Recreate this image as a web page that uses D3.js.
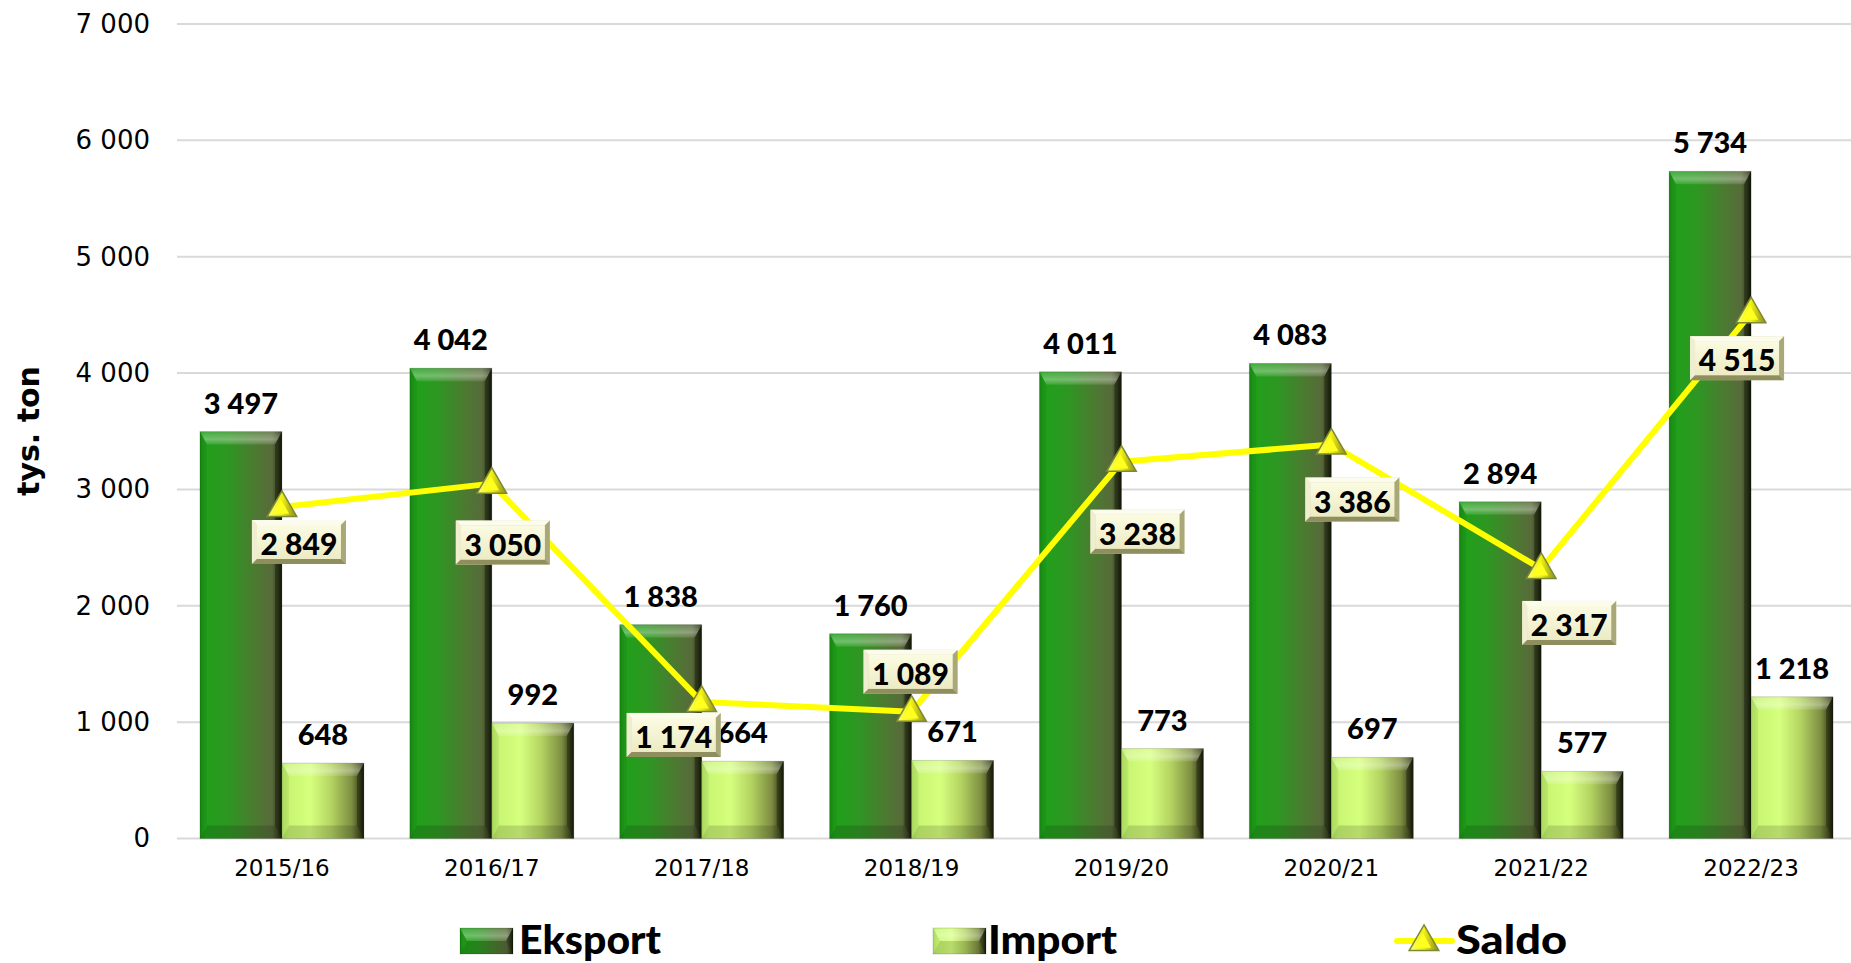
<!DOCTYPE html>
<html>
<head>
<meta charset="utf-8">
<script src="https://cdn.jsdelivr.net/npm/d3@7"></script>
<style>
  html, body { margin:0; padding:0; background:#fff; }
  svg text { font-family: Lato, "Noto Sans", sans-serif; }
</style>
</head>
<body>
<svg id="chart" width="1851" height="963"></svg>
<script>
// data (thousand tons)
var categories = ['2015/16','2016/17','2017/18','2018/19','2019/20','2020/21','2021/22','2022/23'];
var eksport = [3497, 4042, 1838, 1760, 4011, 4083, 2894, 5734];
var importVals = [648, 992, 664, 671, 773, 697, 577, 1218];
var saldo = [2849, 3050, 1174, 1089, 3238, 3386, 2317, 4515];
var yTicks = [0, 1000, 2000, 3000, 4000, 5000, 6000, 7000];
var seriesNames = ['Eksport', 'Import'];

// where the saldo boxes sit relative to their point
var saldoLabelShift = [[17,35],[11,59],[-28,33],[-1,-40],[16,70],[21,55],[28,54],[-14,45]];

var svg = d3.select('#chart');
var plotLeft = 177, plotRight = 1851, plotTop = 24, plotBottom = 838.5;

var fmt = d3.formatLocale({decimal:',', thousands:' ', grouping:[3], currency:['','']}).format(',d');

var y = d3.scaleLinear().domain([0,7000]).range([plotBottom, plotTop]);
// the category bands run a little past the right edge of the picture
var x0 = d3.scaleBand().domain(categories).range([plotLeft, 1856]).padding(0);
var x1 = d3.scaleBand().domain(seriesNames).range([0, x0.bandwidth()]).paddingInner(0).paddingOuter(0.28);

var defs = svg.append('defs');
function hGrad(id, stops){
	var g = defs.append('linearGradient').attr('id', id).attr('x1','0').attr('x2','1').attr('y1','0').attr('y2','0');
	stops.forEach(function(s){ g.append('stop').attr('offset', s[0]).attr('stop-color', s[1]); });
}
hGrad('gEks', [['0%','#178e12'],['6%','#20a01a'],['35%','#2e9622'],['65%','#4a7c30'],['88%','#586a3a'],['95%','#3a4622'],['100%','#182008']]);
hGrad('gImp', [['0%','#b4e864'],['8%','#c8f672'],['35%','#d6ff7e'],['60%','#b4d462'],['85%','#7e8e42'],['94%','#4a5424'],['100%','#1a2208']]);
hGrad('gTri', [['0%','#ffff70'],['50%','#f0f010'],['100%','#8a8a20']]);
var vg = defs.append('linearGradient').attr('id','gBox').attr('x1','0').attr('x2','0').attr('y1','0').attr('y2','1');
vg.append('stop').attr('offset','0%').attr('stop-color','#fbfbe2');
vg.append('stop').attr('offset','100%').attr('stop-color','#ecebc4');
var tg = defs.append('linearGradient').attr('id','gTop').attr('x1','0').attr('x2','0').attr('y1','0').attr('y2','1');
tg.append('stop').attr('offset','0%').attr('stop-color','#fff').attr('stop-opacity', 0.15);
tg.append('stop').attr('offset','60%').attr('stop-color','#fff').attr('stop-opacity', 0.35);
tg.append('stop').attr('offset','100%').attr('stop-color','#fff').attr('stop-opacity', 0.1);

// gridlines
svg.append('g').selectAll('line').data(yTicks).enter().append('line')
	.attr('x1', plotLeft).attr('x2', plotRight)
	.attr('y1', function(d){ return y(d); }).attr('y2', function(d){ return y(d); })
	.attr('stroke', '#d9d9d9').attr('stroke-width', 2);

// y axis
var yAxis = d3.axisLeft(y).tickValues(yTicks).tickFormat(fmt).tickSize(0).tickPadding(27);
var ya = svg.append('g').attr('transform', 'translate(' + plotLeft + ',0)').call(yAxis);
ya.select('.domain').remove();
ya.selectAll('text').attr('font-size', 26).attr('fill', '#000').style('font-family', '"DejaVu Sans", sans-serif');

// x axis
var xAxis = d3.axisBottom(x0).tickSize(0).tickPadding(21);
var xa = svg.append('g').attr('transform', 'translate(0,' + plotBottom + ')').call(xAxis);
xa.select('.domain').remove();
xa.selectAll('text').attr('font-size', 23).attr('fill', '#000').style('font-family', '"DejaVu Sans", sans-serif');

// y title
svg.append('text').attr('transform', 'translate(28,431) rotate(-90)')
	.attr('text-anchor', 'middle').attr('dominant-baseline', 'central')
	.attr('font-size', 30).attr('font-weight', 'bold').style('font-family', '"DejaVu Sans", sans-serif')
	.text('tys. ton');

// bevelled bars
function bevelBar(g, bx, by, bw, bh, grad){
	g.append('rect').attr('x', bx).attr('y', by).attr('width', bw).attr('height', bh).attr('fill', 'url(#' + grad + ')');
	var t = Math.min(13, bh/2), s = 7;
	var pts = function(a){ return a.map(function(p){ return p.join(','); }).join(' '); };
	g.append('polygon').attr('points', pts([[bx,by],[bx+bw,by],[bx+bw-s,by+t],[bx+s,by+t]]))
		.attr('fill', 'url(#gTop)');
	g.append('polygon').attr('points', pts([[bx,by+bh],[bx+bw,by+bh],[bx+bw-s,by+bh-t],[bx+s,by+bh-t]]))
		.attr('fill', '#000').attr('fill-opacity', 0.14);
	g.append('polygon').attr('points', pts([[bx,by],[bx+s,by+t],[bx+s,by+bh-t],[bx,by+bh]]))
		.attr('fill', '#000').attr('fill-opacity', 0.06);
	g.append('polygon').attr('points', pts([[bx+bw,by],[bx+bw-s,by+t],[bx+bw-s,by+bh-t],[bx+bw,by+bh]]))
		.attr('fill', '#000').attr('fill-opacity', 0.3);
	g.append('rect').attr('x', bx).attr('y', by).attr('width', bw).attr('height', bh)
		.attr('fill', 'none').attr('stroke', '#000').attr('stroke-opacity', 0.15).attr('stroke-width', 1);
}

var barData = [];
categories.forEach(function(c, i){
	barData.push({cat:c, s:'Eksport', v:eksport[i]});
	barData.push({cat:c, s:'Import', v:importVals[i]});
});

var bars = svg.append('g');
barData.forEach(function(d){
	var bx = x0(d.cat) + x1(d.s);
	bevelBar(bars, bx, y(d.v), x1.bandwidth(), y(0) - y(d.v), d.s === 'Eksport' ? 'gEks' : 'gImp');
});

// value labels above bars
svg.append('g').selectAll('text').data(barData).enter().append('text')
	.attr('x', function(d){ return x0(d.cat) + x1(d.s) + x1.bandwidth()/2; })
	.attr('y', function(d){ return y(d.v) - 18; })
	.attr('text-anchor', 'middle').attr('font-size', 29).attr('font-weight', 900)
	.text(function(d){ return fmt(d.v); });

// saldo line
var cx = function(i){ return x0(categories[i]) + x0.bandwidth()/2; };
var line = d3.line().x(function(d, i){ return cx(i); }).y(function(d){ return y(d); });
svg.append('path').datum(saldo).attr('d', line).attr('fill', 'none')
	.attr('stroke', '#ffff00').attr('stroke-width', 6).attr('stroke-linejoin', 'round');

// triangle markers
function triangle(g, px, py){
	var big = d3.symbol().type(d3.symbolTriangle).size(380);
	var small = d3.symbol().type(d3.symbolTriangle).size(115);
	g.append('path').attr('d', big()).attr('transform', 'translate(' + px + ',' + (py+1) + ')')
		.attr('fill', 'url(#gTri)').attr('stroke', '#7c8a34').attr('stroke-width', 1.5);
	g.append('path').attr('d', small()).attr('transform', 'translate(' + (px-1) + ',' + (py+2) + ')')
		.attr('fill', '#ffff20');
}
var markers = svg.append('g');
saldo.forEach(function(v, i){ triangle(markers, cx(i), y(v)); });

// saldo value boxes
function bevelBox(g, mx, my, w, h, txt){
	var bx = mx - w/2, by = my - h/2, b = 5;
	var pts = function(a){ return a.map(function(p){ return p.join(','); }).join(' '); };
	g.append('rect').attr('x', bx).attr('y', by).attr('width', w).attr('height', h).attr('fill', '#d8d8a8');
	g.append('polygon').attr('points', pts([[bx,by],[bx+w,by],[bx+w-b,by+b],[bx+b,by+b]])).attr('fill', '#fcfcee');
	g.append('polygon').attr('points', pts([[bx,by],[bx+b,by+b],[bx+b,by+h-b],[bx,by+h]])).attr('fill', '#efeed0');
	g.append('polygon').attr('points', pts([[bx+w,by],[bx+w-b,by+b],[bx+w-b,by+h-b],[bx+w,by+h]])).attr('fill', '#a8a878');
	g.append('polygon').attr('points', pts([[bx,by+h],[bx+w,by+h],[bx+w-b,by+h-b],[bx+b,by+h-b]])).attr('fill', '#8e8e5e');
	g.append('rect').attr('x', bx+b).attr('y', by+b).attr('width', w-2*b).attr('height', h-2*b).attr('fill', 'url(#gBox)');
	g.append('text').attr('x', mx).attr('y', my + 1).attr('text-anchor', 'middle').attr('dominant-baseline', 'central')
		.attr('font-size', 30).attr('font-weight', 900).attr('fill', '#000').text(txt);
}
var boxes = svg.append('g');
saldo.forEach(function(v, i){
	bevelBox(boxes, cx(i) + saldoLabelShift[i][0], y(v) + saldoLabelShift[i][1], 94, 44, fmt(v));
});

// legend
var lg = svg.append('g');
var legY = 941;
bevelBar(lg, 460, legY - 13, 53, 26, 'gEks');
lg.append('text').attr('x', 519).attr('y', 954).attr('font-size', 40).attr('font-weight', 900)
	.attr('textLength', 142).attr('lengthAdjust', 'spacingAndGlyphs').text('Eksport');
bevelBar(lg, 933, legY - 13, 53, 26, 'gImp');
lg.append('text').attr('x', 988).attr('y', 954).attr('font-size', 40).attr('font-weight', 900)
	.attr('textLength', 129).attr('lengthAdjust', 'spacingAndGlyphs').text('Import');
lg.append('line').attr('x1', 1397).attr('x2', 1452).attr('y1', legY).attr('y2', legY)
	.attr('stroke', '#ffff00').attr('stroke-width', 6).attr('stroke-linecap', 'round');
triangle(lg, 1424, legY);
lg.append('text').attr('x', 1456).attr('y', 954).attr('font-size', 40).attr('font-weight', 900)
	.attr('textLength', 111).attr('lengthAdjust', 'spacingAndGlyphs').text('Saldo');
</script>
</body>
</html>
